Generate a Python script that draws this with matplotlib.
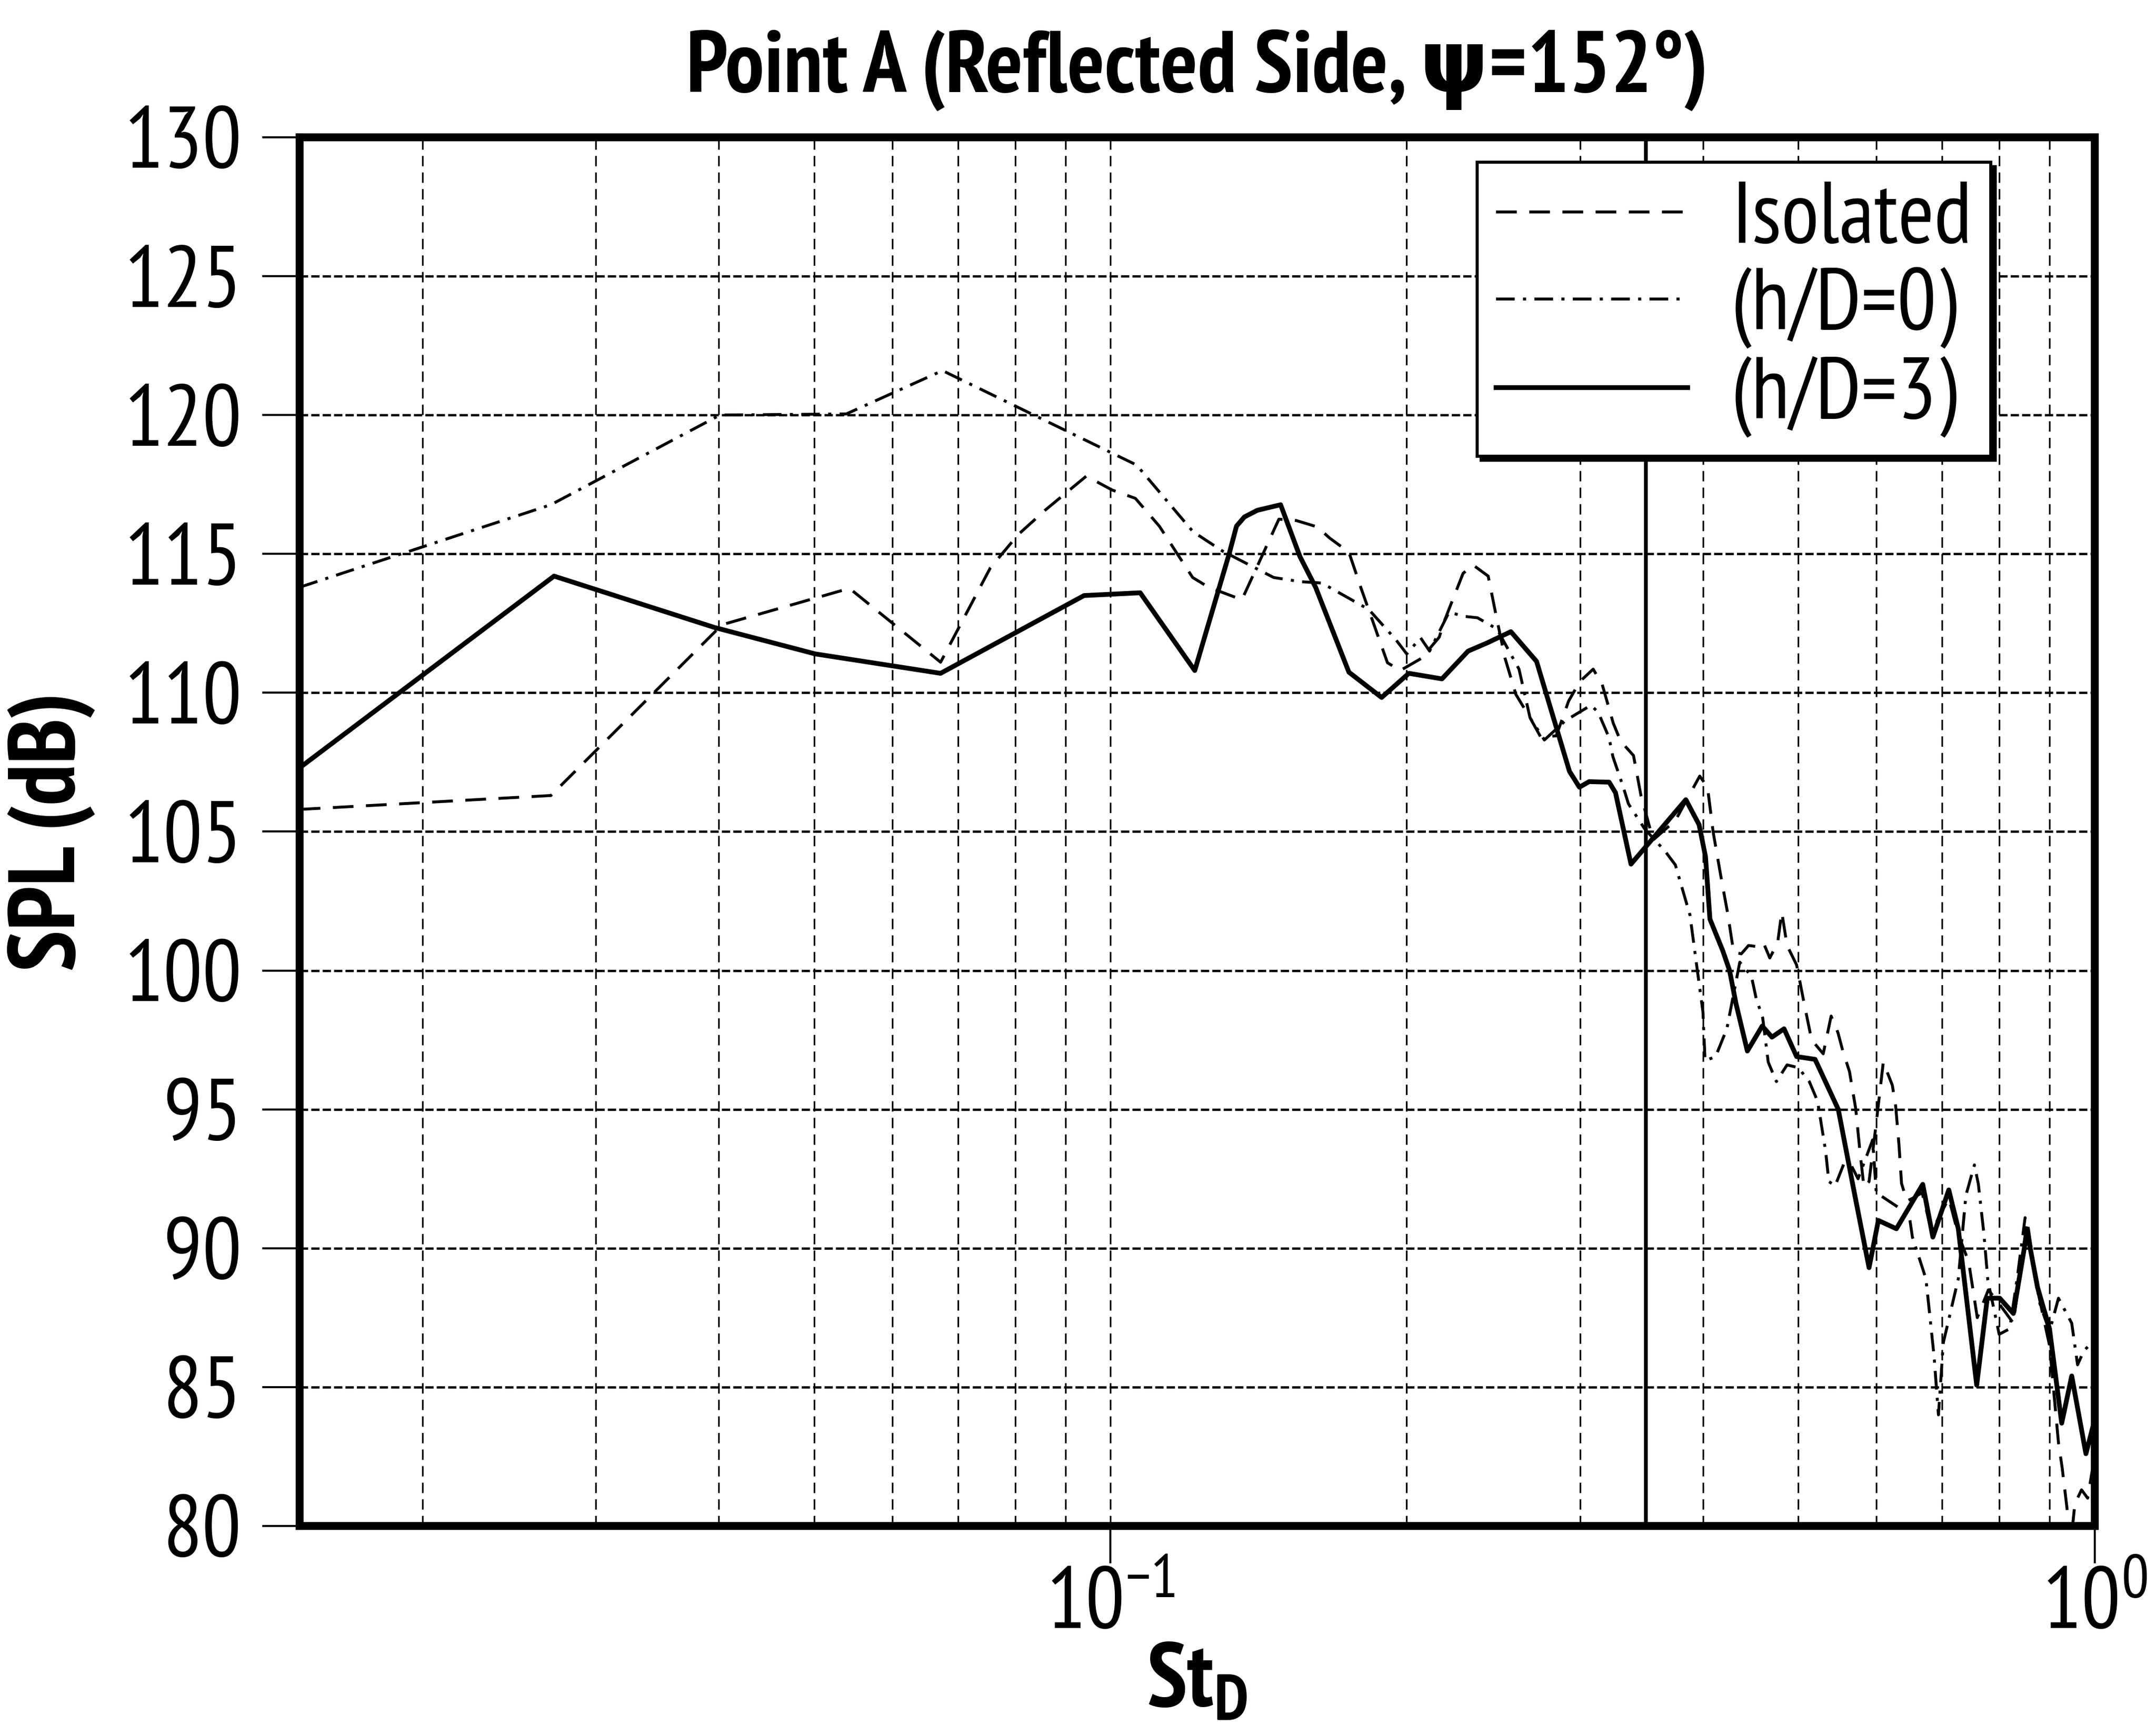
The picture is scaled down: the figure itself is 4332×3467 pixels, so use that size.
# -*- coding: utf-8 -*-
import numpy as np
import matplotlib.pyplot as plt
from matplotlib.ticker import FixedLocator, LogLocator, NullFormatter

# Isolated (dashed)
st_iso = [0.0150, 0.0270, 0.0403, 0.0543, 0.0672, 0.0755, 0.0806, 0.0860, 0.0945, 0.1004,
          0.1060, 0.1121, 0.1212, 0.1258, 0.1360, 0.1483, 0.1545, 0.1623, 0.1670, 0.1747,
          0.1800, 0.1912, 0.1970, 0.2070, 0.2158, 0.2185, 0.2282, 0.2336, 0.2420, 0.2468,
          0.2517, 0.2582, 0.2669, 0.2737, 0.2838, 0.2921, 0.2998, 0.3094, 0.3160, 0.3243,
          0.3300, 0.3400, 0.3460, 0.3560, 0.3750, 0.3970, 0.4043, 0.4096, 0.4166, 0.4236,
          0.4298, 0.4376, 0.4450, 0.4541, 0.4608, 0.4677, 0.4764, 0.4810, 0.4870, 0.4980,
          0.5063, 0.5158, 0.5300, 0.5399, 0.5486, 0.5553, 0.5636, 0.5719, 0.5775, 0.5830,
          0.5900, 0.6000, 0.6100, 0.6230, 0.6280, 0.6328, 0.6366, 0.6446, 0.6534, 0.6680,
          0.6830, 0.7110, 0.7270, 0.7450, 0.7600, 0.7800, 0.8000, 0.8270, 0.8540, 0.8750,
          0.9000, 0.9190, 0.9270, 0.9400, 0.9460, 0.9550, 0.9700, 0.9840, 1.0000]
spl_iso = [105.8, 106.3, 112.45, 113.76, 111.1, 114.5, 115.7, 116.6, 117.8, 117.3,
           117.0, 116.0, 114.15, 113.8, 113.35, 116.25, 116.2, 115.97, 115.57, 115.06,
           113.7, 111.08, 110.8, 111.24, 112.0, 112.6, 114.3, 114.6, 114.2, 112.7,
           111.25, 109.94, 109.1, 108.4, 108.45, 109.7, 110.4, 110.85, 110.3, 108.9,
           108.25, 107.74, 106.3, 104.7, 105.4, 107.0, 106.6, 105.0, 103.5, 102.1,
           100.66, 100.6, 100.9, 100.86, 101.0, 100.45, 101.0, 102.1, 100.9, 100.2,
           98.9, 97.5, 97.0, 98.36, 97.76, 97.06, 96.36, 95.02, 93.5, 92.2,
           92.4, 94.5, 96.7, 95.87, 95.1, 93.72, 92.33, 91.7, 91.8, 92.0,
           90.6, 91.8, 90.5, 89.5, 87.5, 88.5, 88.0, 87.3, 91.0, 88.5,
           86.5, 83.0, 82.1, 80.3, 79.4, 80.8, 81.3, 81.0, 82.5]

# h/D=0 (dash-dot)
st_h0 = [0.0150, 0.0270, 0.0401, 0.0539, 0.0675, 0.1063, 0.1213, 0.1300, 0.1465, 0.1560,
         0.1640, 0.1830, 0.1951, 0.2000, 0.2066, 0.2110, 0.2208, 0.2290, 0.2360, 0.2470,
         0.2601, 0.2669, 0.2760, 0.2900, 0.3078, 0.3130, 0.3210, 0.3240, 0.3320, 0.3360,
         0.3490, 0.3660, 0.3750, 0.3880, 0.4000, 0.4020, 0.4120, 0.4230, 0.4360, 0.4480,
         0.4530, 0.4600, 0.4660, 0.4750, 0.4870, 0.5000, 0.5130, 0.5230, 0.5330, 0.5370,
         0.5450, 0.5600, 0.5750, 0.5950, 0.6000, 0.6300, 0.6480, 0.6530, 0.6740, 0.6870,
         0.6940, 0.7020, 0.7270, 0.7400, 0.7550, 0.7620, 0.7720, 0.7790, 0.8000, 0.8200,
         0.8350, 0.8500, 0.8650, 0.8800, 0.9000, 0.9190, 0.9480, 0.9610, 0.9750, 1.0000]
spl_h0 = [113.8, 116.77, 120.0, 120.04, 121.6, 118.2, 115.8, 115.1, 114.15, 114.0,
          113.95, 113.0, 111.9, 111.4, 111.98, 111.5, 112.9, 112.75, 112.7, 112.3,
          110.85, 109.1, 108.3, 109.0, 109.55, 109.3, 108.4, 107.7, 106.6, 106.0,
          105.1, 104.3, 103.8, 102.0, 98.5, 96.75, 96.9, 97.9, 100.3, 99.8,
          99.0, 98.3, 96.7, 96.0, 96.6, 96.5, 96.0, 95.3, 93.5, 92.4,
          92.25, 93.3, 92.5, 93.9, 92.0, 91.5, 91.2, 90.4, 88.9, 86.1,
          84.0, 86.6, 88.9, 91.9, 93.0, 92.3, 90.5, 88.85, 86.9, 87.1,
          89.0, 91.1, 89.5, 88.0, 87.0, 88.2, 87.3, 85.8, 86.3, 86.7]

# h/D=3 (solid)
st_h3 = [0.0150, 0.0272, 0.0396, 0.0501, 0.0672, 0.0940, 0.1072, 0.1218, 0.1320, 0.1343,
         0.1368, 0.1410, 0.1489, 0.1558, 0.1616, 0.1747, 0.1886, 0.2010, 0.2172, 0.2309,
         0.2416, 0.2552, 0.2710, 0.2927, 0.2996, 0.3065, 0.3212, 0.3260, 0.3380, 0.3843,
         0.3964, 0.4024, 0.4066, 0.4191, 0.4257, 0.4322, 0.4438, 0.4595, 0.4701, 0.4836,
         0.4980, 0.5200, 0.5490, 0.5700, 0.5900, 0.6030, 0.6290, 0.6690, 0.6850, 0.7110,
         0.7270, 0.7590, 0.7780, 0.8010, 0.8270, 0.8540, 0.8750, 0.9000, 0.9260, 0.9480,
         0.9800, 1.0000]
spl_h3 = [107.3, 114.2, 112.35, 111.4, 110.7, 113.5, 113.6, 110.8, 115.0, 116.0,
          116.33, 116.57, 116.77, 114.9, 113.8, 110.74, 109.83, 110.7, 110.5, 111.5,
          111.8, 112.2, 111.13, 107.17, 106.6, 106.8, 106.78, 106.4, 103.83, 106.15,
          105.25, 104.1, 101.85, 100.7, 100.0, 98.8, 97.1, 98.0, 97.6, 97.9,
          96.9, 96.8, 95.0, 92.0, 89.3, 91.0, 90.7, 92.3, 90.4, 92.1,
          90.7, 85.07, 88.2, 88.2, 87.65, 90.6, 88.6, 87.1, 83.7, 85.4,
          82.6, 83.8]

labels = ["Isolated", "(h/D=0)", "(h/D=3)"]
y_ticks = [80, 85, 90, 95, 100, 105, 110, 115, 120, 125, 130]
x_major = [0.1, 1.0]
st_mark = 0.35  # solid vertical line in the original

FONT = 'PT Sans Narrow'


def Main():
    plt.rcParams['font.family'] = [FONT, 'DejaVu Sans']
    plt.rcParams['mathtext.fontset'] = 'custom'
    plt.rcParams['mathtext.rm'] = FONT
    plt.rcParams['mathtext.bf'] = FONT + ':bold'
    plt.rcParams['mathtext.it'] = FONT
    plt.rcParams['axes.unicode_minus'] = False
    plt.rcParams['lines.scale_dashes'] = False

    fig = plt.figure(figsize=(4332 / 300, 3467 / 300), dpi=300)
    ax = fig.add_axes([0.139, 0.1154, 0.8325, 0.805])

    ax.plot(st_iso, spl_iso, color='k', lw=1.4, ls=(0, (10, 6)), label=labels[0])
    ax.plot(st_h0, spl_h0, color='k', lw=1.4, ls=(0, (9, 4, 1.5, 4)), label=labels[1])
    ax.plot(st_h3, spl_h3, color='k', lw=2.3, ls='-', label=labels[2])
    ax.axvline(st_mark, color='k', lw=1.8, zorder=1.5)

    # axes
    ax.set_xscale('log')
    ax.set_xlim(0.0150, 1.0)
    ax.set_ylim(80, 130)
    ax.set_yticks(y_ticks)
    ax.xaxis.set_major_locator(FixedLocator(x_major))
    ax.xaxis.set_minor_locator(LogLocator(base=10, subs=np.arange(2, 10)))
    ax.xaxis.set_minor_formatter(NullFormatter())
    ax.tick_params(axis='both', which='major', direction='out', length=18, width=1.0,
                   labelsize=42)
    ax.tick_params(axis='x', which='major', pad=2)
    ax.tick_params(axis='y', which='major', pad=10)
    ax.tick_params(axis='x', which='minor', length=0)

    ax.set_axisbelow(True)
    ax.grid(True, which='major', axis='y', color='k', lw=1.1, ls=(0, (4, 1.5)))
    ax.grid(True, which='both', axis='x', color='k', lw=0.8, ls=(0, (5, 3)))
    for s in ax.spines.values():
        s.set_linewidth(3.8)

    ax.set_title('Point A (Reflected Side, \u03c8=152\u00b0)', fontsize=42,
                 fontweight='bold', pad=22)
    ax.set_ylabel('SPL (dB)', fontsize=45, fontweight='bold')
    ax.yaxis.set_label_coords(-0.114, 0.5)
    ax.set_xlabel(r'$\mathbf{St_D}$', fontsize=44)
    ax.xaxis.set_label_coords(0.5, -0.084)

    leg = ax.legend(loc='upper right', bbox_to_anchor=(0.9423, 0.982), borderaxespad=0,
                    fancybox=False, shadow={'color': 'k', 'alpha': 1}, framealpha=1,
                    edgecolor='k', fontsize=42, handlelength=2.2, handletextpad=0.5,
                    labelspacing=0.08, borderpad=0.22)
    leg.get_frame().set_linewidth(1.5)

    fig.savefig('out.png', dpi=300)
# End_Def


if __name__ == "__main__":
    Main()
